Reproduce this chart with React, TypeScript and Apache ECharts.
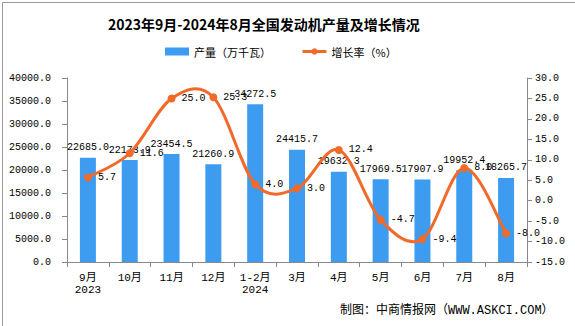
import React, { useEffect, useRef } from "react";
import * as echarts from "echarts";

const categories = ["9月\n2023", "10月", "11月", "12月", "1-2月\n2024", "3月", "4月", "5月", "6月", "7月", "8月"];
const production = [22685.0, 22173.9, 23454.5, 21260.9, 34272.5, 24415.7, 19632.3, 17969.5, 17907.9, 19952.4, 18265.7];
const growth = [5.7, 11.6, 25.0, 25.3, 4.0, 3.0, 12.4, -4.7, -9.4, 8.0, -8.0];

const FONT = "'Liberation Mono', 'Noto Sans CJK SC', monospace";
const CJK = "'Noto Sans CJK SC', sans-serif";
const ORANGE = "#f26a2a";
const BLUE = "#3d9cf0";

export default function App() {
  const ref = useRef<HTMLDivElement>(null);
  useEffect(() => {
    const chart = echarts.init(ref.current!, undefined, { renderer: "svg" });
    chart.setOption({
      animation: false,
      backgroundColor: "#fff",
      title: {
        text: "2023年9月-2024年8月全国发动机产量及增长情况",
        left: 103,
        top: 12,
        textStyle: { fontSize: 14, fontWeight: "bold", color: "#000", fontFamily: CJK },
      },
      legend: {
        top: 41,
        left: 160,
        itemGap: 30,
        itemWidth: 24,
        itemHeight: 8,
        textStyle: { fontSize: 11, color: "#000", fontFamily: CJK },
        data: [
          { name: "产量（万千瓦）", icon: "rect" },
          { name: "增长率（%）", lineStyle: { color: ORANGE, width: 3, opacity: 1 } },
        ],
      },
      grid: { left: 67, right: 48, top: 78, bottom: 64, containLabel: false },
      xAxis: {
        type: "category",
        data: categories,
        axisLine: { lineStyle: { color: "#888" } },
        axisTick: { show: true, lineStyle: { color: "#888" }, length: 5 },
        axisLabel: { color: "#000", fontSize: 11, fontFamily: FONT, lineHeight: 12, margin: 10, interval: 0 },
      },
      yAxis: [
        {
          type: "value",
          min: 0,
          max: 40000,
          interval: 5000,
          axisLine: { show: true, lineStyle: { color: "#888" } },
          axisTick: { show: true, lineStyle: { color: "#888" } },
          splitLine: { show: false },
          axisLabel: { color: "#000", fontSize: 10, fontFamily: FONT, margin: 16, formatter: (v: number) => v.toFixed(1) },
        },
        {
          type: "value",
          min: -15,
          max: 30,
          interval: 5,
          axisLine: { show: true, lineStyle: { color: "#888" } },
          axisTick: { show: true, lineStyle: { color: "#888" } },
          splitLine: { show: false },
          axisLabel: { color: "#000", fontSize: 10, fontFamily: FONT, margin: 8, formatter: (v: number) => v.toFixed(1) },
        },
      ],
      series: [
        {
          name: "产量（万千瓦）",
          type: "bar",
          data: production,
          barWidth: 16,
          itemStyle: { color: BLUE },
          label: {
            show: true,
            position: "top",
            color: "#000",
            fontSize: 10,
            fontFamily: FONT,
            formatter: (p: any) => p.value.toFixed(1),
          },
        },
        {
          name: "curve",
          type: "custom",
          yAxisIndex: 1,
          silent: true,
          z: 3,
          data: growth.map((v, i) => [i, v]),
          renderItem: (params: any, api: any) => {
            if (params.dataIndex !== 0) return null;
            const pts = growth.map((v, i) => api.coord([i, v]));
            const n = pts.length;
            const children: any[] = [];
            for (let i = 0; i < n - 1; i++) {
              const p0 = pts[Math.max(i - 1, 0)];
              const p1 = pts[i];
              const p2 = pts[i + 1];
              const p3 = pts[Math.min(i + 2, n - 1)];
              children.push({
                type: "bezierCurve",
                shape: {
                  x1: p1[0],
                  y1: p1[1],
                  x2: p2[0],
                  y2: p2[1],
                  cpx1: p1[0] + (p2[0] - p0[0]) / 6,
                  cpy1: p1[1] + (p2[1] - p0[1]) / 6,
                  cpx2: p2[0] - (p3[0] - p1[0]) / 6,
                  cpy2: p2[1] - (p3[1] - p1[1]) / 6,
                },
                style: { stroke: ORANGE, lineWidth: 3, fill: "none" },
              });
            }
            return { type: "group", children };
          },
        },
        {
          name: "增长率（%）",
          type: "line",
          yAxisIndex: 1,
          data: growth,
          symbol: "circle",
          symbolSize: 8,
          z: 4,
          lineStyle: { color: ORANGE, width: 3, opacity: 0 },
          itemStyle: { color: ORANGE },
          label: {
            show: true,
            position: "right",
            distance: 6,
            color: "#000",
            fontSize: 10,
            fontFamily: FONT,
            formatter: (p: any) => p.value.toFixed(1),
          },
        },
      ],
      graphic: [
        {
          type: "rect",
          left: 0,
          top: 0,
          shape: { width: 574, height: 325 },
          style: { fill: "none", stroke: "#999", lineWidth: 1 },
          silent: true,
        },
        {
          type: "text",
          left: 340,
          top: 305,
          style: { text: "制图：中商情报网（WWW.ASKCI.COM）", fontSize: 12, fill: "#000", fontFamily: FONT },
        },
      ],
    });
    return () => chart.dispose();
  }, []);
  return <div ref={ref} style={{ width: 575, height: 326, position: "absolute", left: 0, top: 0 }} />;
}
